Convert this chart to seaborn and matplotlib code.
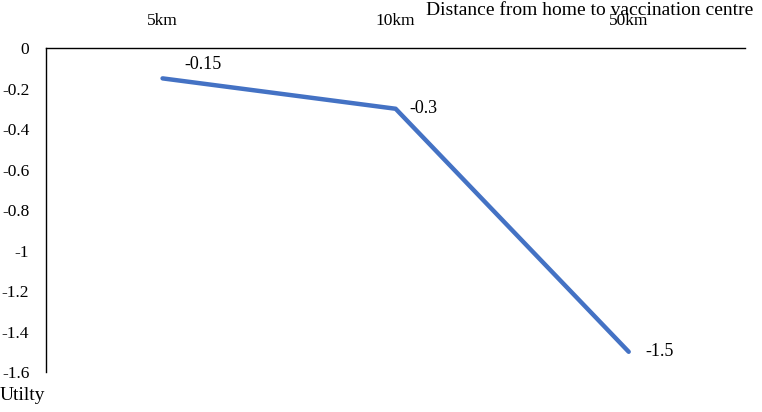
import matplotlib
matplotlib.use("Agg")
import matplotlib.pyplot as plt
import seaborn as sns
import pandas as pd

# data
distance = ["5km", "10km", "50km"]
utility = [-0.15, -0.3, -1.5]
y_ticks = [0, -0.2, -0.4, -0.6, -0.8, -1, -1.2, -1.4, -1.6]
y_tick_labels = ["0", "-0.2", "-0.4", "-0.6", "-0.8", "-1", "-1.2", "-1.4", "-1.6"]

df = pd.DataFrame({"Distance": distance, "Utility": utility})

sns.set_style("white")
plt.rcParams["font.family"] = ["Liberation Serif", "DejaVu Serif"]
plt.rcParams["text.color"] = "black"
plt.rcParams["xtick.color"] = "black"
plt.rcParams["ytick.color"] = "black"

fig = plt.figure(figsize=(7.62, 4.12), dpi=100)
ax = fig.add_axes([0.0604, 0.097, 0.9176, 0.7865])

sns.lineplot(data=df, x="Distance", y="Utility", color="#4472C4", linewidth=3.2,
             ax=ax, sort=False, solid_capstyle="round")

# data labels
offsets = [(16, 10), (10, 0), (12, 0)]
for i, (d, u) in enumerate(zip(distance, utility)):
    ax.annotate(f"{u:g}", xy=(i, u), xytext=offsets[i], textcoords="offset points",
                fontsize=13, va="center", ha="left")

ax.set_xlim(-0.5, 2.5)
ax.set_ylim(-1.6, 0)
ax.set_yticks(y_ticks)
ax.set_yticklabels(y_tick_labels, fontsize=12.5)
ax.xaxis.tick_top()
ax.set_xticks(range(len(distance)))
ax.set_xticklabels(distance, fontsize=12.5)
ax.tick_params(axis="x", length=0, pad=14)
ax.tick_params(axis="y", length=0, pad=12)
ax.set_xlabel("")
ax.set_ylabel("")

for s in ["bottom", "right"]:
    ax.spines[s].set_visible(False)
for s in ["top", "left"]:
    ax.spines[s].set_color("black")
    ax.spines[s].set_linewidth(1)

fig.text(0.988, 0.995, "Distance from home to vaccination centre", fontsize=14,
         ha="right", va="top")
fig.text(0.0, 0.04, "Utilty", fontsize=14, ha="left", va="center")

fig.savefig("out.png", dpi=100)
